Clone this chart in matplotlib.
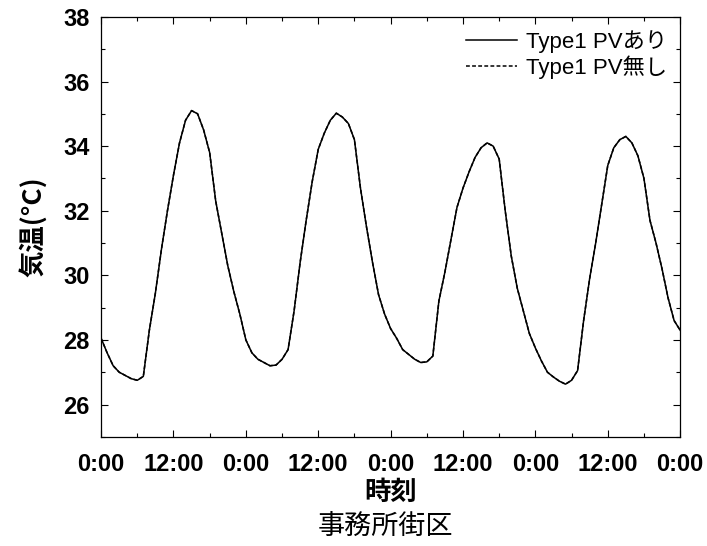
import matplotlib
matplotlib.use("Agg")
import matplotlib.pyplot as plt
from matplotlib.ticker import MultipleLocator, FixedLocator

plt.rcParams['font.family'] = ['Liberation Sans', 'Noto Sans CJK JP']

# hourly air temperature over four days (office district)
hours = list(range(97))
temp_pv = [
    28.05, 27.6, 27.2, 27.0, 26.9, 26.8, 26.75, 26.87, 28.3, 29.45,
    30.8, 32.0, 33.1, 34.1, 34.8, 35.1, 35.0, 34.5, 33.8, 32.3,
    31.3, 30.3, 29.5, 28.8, 28.0, 27.6, 27.4, 27.3, 27.2, 27.22,
    27.4, 27.7, 28.9, 30.4, 31.7, 32.9, 33.9, 34.4, 34.8, 35.02,
    34.9, 34.7, 34.2, 32.7, 31.5, 30.4, 29.4, 28.8, 28.35, 28.05,
    27.7, 27.55, 27.4, 27.3, 27.32, 27.5, 29.2, 30.1, 31.1, 32.1,
    32.7, 33.2, 33.65, 33.95, 34.1, 34.0, 33.6, 32.0, 30.6, 29.6,
    28.9, 28.2, 27.75, 27.35, 27.0, 26.85, 26.72, 26.63, 26.75, 27.05,
    28.6, 29.9, 31.0, 32.2, 33.4, 33.95, 34.2, 34.3, 34.1, 33.7,
    33.0, 31.7, 31.0, 30.2, 29.3, 28.6, 28.3,
]
# without PV the curve is practically identical
temp_no_pv = list(temp_pv)

x_ticks = [0, 12, 24, 36, 48, 60, 72, 84, 96]
x_labels = ['0:00', '12:00', '0:00', '12:00', '0:00', '12:00', '0:00', '12:00', '0:00']
y_ticks = [26, 28, 30, 32, 34, 36, 38]

fig = plt.figure(figsize=(7.07, 5.46), dpi=100)
ax = fig.add_axes([0.143, 0.2, 0.819, 0.769])

ax.plot(hours, temp_pv, color='black', lw=1.1, label='Type1 PVあり')
ax.plot(hours, temp_no_pv, color='black', lw=1.1, ls=(0, (2.5, 1.5)), label='Type1 PV無し')

ax.set_xlim(0, 96)
ax.set_ylim(25, 38)
ax.xaxis.set_major_locator(FixedLocator(x_ticks))
ax.set_xticklabels(x_labels)
ax.xaxis.set_minor_locator(MultipleLocator(6))
ax.yaxis.set_major_locator(FixedLocator(y_ticks))
ax.yaxis.set_minor_locator(MultipleLocator(1))

ax.tick_params(which='both', direction='in', top=True, right=True, width=0.8)
ax.tick_params(which='major', length=5)
ax.tick_params(which='minor', length=3)
ax.tick_params(axis='x', pad=12)
ax.tick_params(axis='y', pad=8)
for lab in ax.get_xticklabels() + ax.get_yticklabels():
    lab.set_fontsize(17)
    lab.set_fontweight('bold')
for sp in ax.spines.values():
    sp.set_linewidth(0.9)

ax.set_ylabel('気温(°C)', fontsize=19, fontweight='bold', labelpad=12,
              family=['Noto Sans CJK JP', 'Liberation Sans'])
ax.set_xlabel('時刻', fontsize=19, fontweight='bold', labelpad=2,
              family=['Noto Sans CJK JP', 'Liberation Sans'])

fig.text(0.545, 0.035, '事務所街区', fontsize=19.5, ha='center', va='center',
         family=['Noto Sans CJK JP'])

ax.legend(loc='upper right', frameon=False, fontsize=16, handlelength=2.3,
          handletextpad=0.4, labelspacing=0.1, borderaxespad=0.2)

fig.savefig('out.png', dpi=100)
